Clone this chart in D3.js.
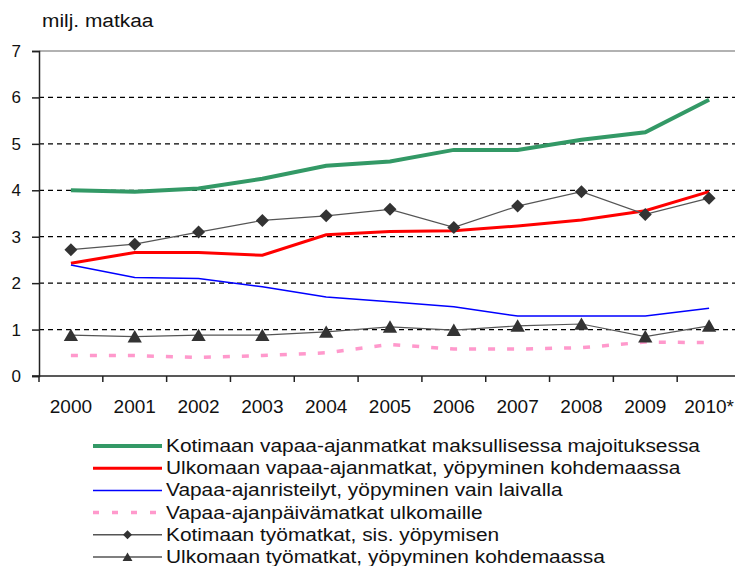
<!DOCTYPE html>
<html>
<head>
<meta charset="utf-8">
<script src="https://cdn.jsdelivr.net/npm/d3@7"></script>
<style>
	body { margin: 0; background: #fff; }
	text { font-family: "Liberation Sans", Arial, sans-serif; fill: #111; }
</style>
</head>
<body>
<div id="canvas"></div>
<script>

var years = ["2000", "2001", "2002", "2003", "2004", "2005", "2006", "2007", "2008", "2009", "2010*"]
var yTicks = [0, 1, 2, 3, 4, 5, 6, 7]

var kotimaanVapaa = [4.0, 3.97, 4.04, 4.25, 4.53, 4.62, 4.87, 4.87, 5.09, 5.25, 5.95]
var ulkomaanVapaa = [2.43, 2.66, 2.66, 2.6, 3.04, 3.11, 3.13, 3.23, 3.36, 3.56, 3.97]
var risteilyt = [2.39, 2.12, 2.1, 1.92, 1.7, 1.6, 1.49, 1.29, 1.29, 1.29, 1.46]
var paivamatkat = [0.44, 0.44, 0.4, 0.44, 0.5, 0.68, 0.58, 0.58, 0.61, 0.73, 0.72]
var kotimaanTyo = [2.72, 2.84, 3.1, 3.35, 3.45, 3.59, 3.2, 3.66, 3.97, 3.48, 3.83]
var ulkomaanTyo = [0.88, 0.85, 0.88, 0.88, 0.95, 1.06, 0.99, 1.08, 1.12, 0.85, 1.08]

var seriesNames = [
	"Kotimaan vapaa-ajanmatkat maksullisessa majoituksessa",
	"Ulkomaan vapaa-ajanmatkat, yöpyminen kohdemaassa",
	"Vapaa-ajanristeilyt, yöpyminen vain laivalla",
	"Vapaa-ajanpäivämatkat ulkomaille",
	"Kotimaan työmatkat, sis. yöpymisen",
	"Ulkomaan työmatkat, yöpyminen kohdemaassa"
]

// styles per series, same order as the names
var series = [
	{ values: kotimaanVapaa, color: "#339966", width: 4, dash: null, marker: null },
	{ values: ulkomaanVapaa, color: "#ff0000", width: 3, dash: null, marker: null },
	{ values: risteilyt, color: "#0000ff", width: 1.5, dash: null, marker: null },
	{ values: paivamatkat, color: "#ff99cc", width: 3.5, dash: "7,12", marker: null },
	{ values: kotimaanTyo, color: "#555", width: 1.2, dash: null, marker: "diamond" },
	{ values: ulkomaanTyo, color: "#555", width: 1.2, dash: null, marker: "triangle" }
]

var svg = d3.select('#canvas').append("svg")
	.attr("width", 735)
	.attr("height", 566);

var x = d3.scaleBand().domain(years).range([39, 741])
var y = d3.scaleLinear().domain([0, 7]).range([376, 51])

function cx(i) { return x(years[i]) + x.bandwidth() / 2; }

// unit label
svg.append("text")
	.attr("transform", "translate(42,27) scale(1.1,1)")
	.style("font-size", "19px")
	.text("milj. matkaa");

// grid lines
svg.append("g").selectAll("line")
	.data(yTicks.filter(function (d) { return d > 0; }))
	.enter().append("line")
		.attr("x1", 39)
		.attr("x2", 741)
		.attr("y1", function (d) { return y(d); })
		.attr("y2", function (d) { return y(d); })
		.style("stroke", function (d) { return d == 7 ? "#999" : "#000"; })
		.style("stroke-width", function (d) { return d == 7 ? 1.5 : 1.3; })
		.style("stroke-dasharray", function (d) { return d == 7 ? null : "5,4"; });

// y axis
var yAxis = svg.append("g")
	.attr("transform", "translate(39,0)")
	.call(d3.axisLeft(y).tickValues(yTicks).tickSize(7).tickPadding(11).tickFormat(d3.format("d")))
yAxis.select(".domain").style("stroke", "#222").style("stroke-width", 1.5)
yAxis.selectAll(".tick line").style("stroke", "#222").style("stroke-width", 1.5)
yAxis.selectAll("text").style("font-size", "17px").style("font-family", "Liberation Sans, Arial, sans-serif")

// x axis, ticks sit on the band boundaries
var xAxis = svg.append("g")
	.attr("transform", "translate(0,376)")
xAxis.append("line")
	.attr("x1", 32).attr("x2", 741)
	.style("stroke", "#222").style("stroke-width", 1.5)
xAxis.selectAll(".tk")
	.data(years)
	.enter().append("line")
		.attr("class", "tk")
		.attr("x1", function (d) { return x(d); })
		.attr("x2", function (d) { return x(d); })
		.attr("y1", 0).attr("y2", 6)
		.style("stroke", "#222").style("stroke-width", 1.5);
xAxis.selectAll("text")
	.data(years)
	.enter().append("text")
		.attr("x", function (d) { return x(d) + x.bandwidth() / 2; })
		.attr("y", 37)
		.attr("text-anchor", "middle")
		.style("font-size", "19px")
		.text(function (d) { return d; });

var line = d3.line()
	.x(function (d, i) { return cx(i); })
	.y(function (d) { return y(d); })

function drawMarker(g, type, px, py, s) {
	if (type == "diamond") {
		g.append("path")
			.attr("d", "M" + px + "," + (py - s) + "L" + (px + s) + "," + py + "L" + px + "," + (py + s) + "L" + (px - s) + "," + py + "Z")
			.style("fill", "#333");
	} else if (type == "triangle") {
		g.append("path")
			.attr("d", "M" + px + "," + (py - s) + "L" + (px + s * 1.1) + "," + (py + s * 0.9) + "L" + (px - s * 1.1) + "," + (py + s * 0.9) + "Z")
			.style("fill", "#333");
	}
}

var plot = svg.append("g")
series.forEach(function (s) {
	plot.append("path")
		.datum(s.values)
		.attr("d", line)
		.style("fill", "none")
		.style("stroke", s.color)
		.style("stroke-width", s.width)
		.style("stroke-dasharray", s.dash);
	if (s.marker) {
		s.values.forEach(function (v, i) {
			drawMarker(plot, s.marker, cx(i), y(v), 6.5);
		})
	}
})

// legend
var legend = svg.append("g")
series.forEach(function (s, k) {
	var ly = 446 + k * 22.2
	legend.append("line")
		.attr("x1", 93).attr("x2", 162)
		.attr("y1", ly).attr("y2", ly)
		.style("stroke", s.color)
		.style("stroke-width", s.marker ? 1.5 : s.width)
		.style("stroke-dasharray", s.dash ? "6,13" : null);
	if (s.marker) drawMarker(legend, s.marker, 127.5, ly, 4.5);
	legend.append("text")
		.attr("transform", "translate(166," + (ly + 6) + ") scale(1.13,1)")
		.style("font-size", "18.5px")
		.text(seriesNames[k]);
})

</script>
</body>
</html>
